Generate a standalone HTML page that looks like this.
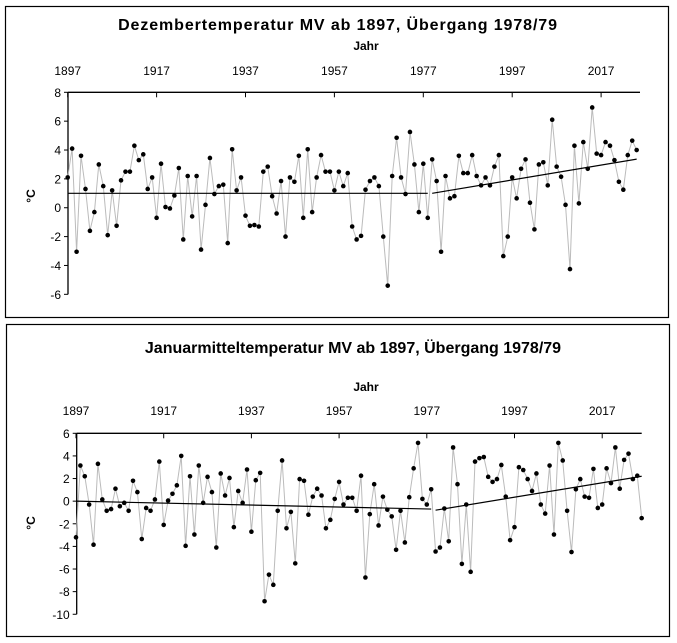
<!DOCTYPE html>
<html><head><meta charset="utf-8"><style>
html,body{margin:0;padding:0;background:#fff;width:677px;height:643px;overflow:hidden}
svg{display:block;font-family:"Liberation Sans",Arial,sans-serif}
</style></head><body>
<svg id="s" width="677" height="643" viewBox="0 0 677 643">
<rect x="5.5" y="6.5" width="663" height="311" fill="none" stroke="#000" stroke-width="1.2"/>
<rect x="6.5" y="324.5" width="663" height="312" fill="none" stroke="#000" stroke-width="1.2"/>
<text x="338" y="30" text-anchor="middle" font-size="16" font-weight="bold" letter-spacing="0.9">Dezembertemperatur MV ab 1897, Übergang 1978/79</text>
<text x="366" y="50" text-anchor="middle" font-size="12" font-weight="bold">Jahr</text>
<text x="353" y="353" text-anchor="middle" font-size="16" font-weight="bold">Januarmitteltemperatur MV ab 1897, Übergang 1978/79</text>
<text x="366" y="391" text-anchor="middle" font-size="12" font-weight="bold">Jahr</text>
<text transform="translate(35,196) rotate(-90)" text-anchor="middle" font-size="12" font-weight="bold">°C</text>
<text transform="translate(35,523) rotate(-90)" text-anchor="middle" font-size="12" font-weight="bold">°C</text>
</svg>
<script>
const xTickYears=[1897,1917,1937,1957,1977,1997,2017];
const decStartYear=1897;
const decValues=[2.1,4.1,-3.05,3.6,1.3,-1.6,-0.3,3.0,1.5,-1.9,1.2,-1.25,1.9,2.5,2.5,4.3,3.3,3.7,1.3,2.1,-0.7,3.05,0.05,-0.05,0.85,2.75,-2.2,2.2,-0.6,2.2,-2.9,0.2,3.45,0.95,1.5,1.6,-2.45,4.05,1.2,2.1,-0.55,-1.25,-1.2,-1.3,2.5,2.85,0.8,-0.4,1.85,-2.0,2.1,1.8,3.6,-0.7,4.05,-0.3,2.1,3.65,2.5,2.5,1.2,2.5,1.5,2.4,-1.3,-2.2,-1.95,1.25,1.85,2.1,1.5,-2.0,-5.4,2.2,4.85,2.1,0.95,5.25,3.0,-0.3,3.05,-0.7,3.35,1.85,-3.05,2.2,0.65,0.8,3.6,2.4,2.4,3.65,2.2,1.55,2.1,1.55,2.85,3.65,-3.35,-2.0,2.1,0.65,2.7,3.35,0.35,-1.5,3.0,3.15,1.55,6.1,2.85,2.15,0.2,-4.25,4.3,0.3,4.55,2.7,6.95,3.75,3.65,4.55,4.3,3.3,1.8,1.25,3.65,4.65,4.0];
const decTrendYears=[[1897,1978],[1979,2025]];
const decTrendValues=[[1.0,1.0],[1.0,3.37]];
const decYTicks=[8,6,4,2,0,-2,-4,-6];
const janStartYear=1897;
const janValues=[-3.2,3.15,2.2,-0.3,-3.85,3.3,0.15,-0.85,-0.7,1.1,-0.45,-0.15,-0.85,1.8,0.8,-3.35,-0.6,-0.85,0.15,3.5,-2.1,0.05,0.65,1.4,4.0,-3.95,2.2,-2.95,3.15,-0.15,2.15,0.8,-4.1,2.45,0.5,2.05,-2.3,0.9,-0.15,2.8,-2.7,1.85,2.5,-8.85,-6.5,-7.4,-0.85,3.6,-2.4,-0.95,-5.5,1.95,1.8,-1.2,0.4,1.1,0.5,-2.4,-1.65,0.2,1.7,-0.3,0.3,0.3,-0.85,2.25,-6.75,-1.15,1.5,-2.15,0.4,-0.75,-1.35,-4.3,-0.85,-3.65,0.35,2.9,5.15,0.2,-0.3,1.05,-4.45,-4.1,-0.65,-3.55,4.75,1.5,-5.55,-0.3,-6.25,3.5,3.8,3.9,2.15,1.7,1.95,3.2,0.4,-3.45,-2.3,3.0,2.75,1.95,0.9,2.45,-0.3,-1.1,3.15,-2.95,5.15,3.6,-0.85,-4.5,1.05,1.95,0.4,0.3,2.85,-0.6,-0.3,2.9,1.6,4.75,1.1,3.65,4.2,1.95,2.25,-1.5];
const janTrendYears=[[1897,1978],[1979,2026]];
const janTrendValues=[[0.0,-0.7],[-0.8,2.2]];
const janYTicks=[6,4,2,0,-2,-4,-6,-8,-10];

const NS="http://www.w3.org/2000/svg";
const svg=document.getElementById('s');
function mk(tag,attrs,parent){const e=document.createElementNS(NS,tag);for(const k in attrs)e.setAttribute(k,attrs[k]);(parent||svg).appendChild(e);return e;}

function drawChart(p){
  const g=mk('g',{});
  
  
  const x=y=>p.x0+(y-p.startYear)*p.dx;
  const yv=v=>p.yTop+(p.vMax-v)*p.dy;
  const ax=mk('line',{x1:p.axX,y1:yv(p.vMax),x2:p.axEnd,y2:yv(p.vMax),stroke:'#000','stroke-width':1.3},g);
  
  
  xTickYears.forEach(yr=>{
    const t=mk('line',{x1:x(yr),y1:yv(p.vMax),x2:x(yr),y2:yv(p.vMax)+5,stroke:'#000'},g);
    
    
    const l=mk('text',{x:x(yr),y:p.labelY,'text-anchor':'middle','font-size':12},g);
    l.textContent=yr;
    
    
  });
  const ya=mk('line',{x1:p.axX,y1:yv(p.vMax),x2:p.axX,y2:yv(p.vMin),stroke:'#000','stroke-width':1.3},g);
  
  
  p.yTicks.forEach(v=>{
    const t=mk('line',{x1:p.axX-4,y1:yv(v),x2:p.axX,y2:yv(v),stroke:'#000'},g);
    
    
    const l=mk('text',{x:p.axX-7,y:yv(v)+4.5,'text-anchor':'end','font-size':12},g);
    l.textContent=v;
    
    
  });
  const pts=p.values.map((v,i)=>x(p.startYear+i).toFixed(1)+','+yv(v).toFixed(1)).join(' ');
  const pl=mk('polyline',{points:pts,fill:'none',stroke:'#bbb','stroke-width':1},g);
  
  
  p.trendYears.forEach((ty,i)=>{
    const tl=mk('line',{x1:x(ty[0]),y1:yv(p.trendValues[i][0]),x2:x(ty[1]),y2:yv(p.trendValues[i][1]),stroke:'#000','stroke-width':1.2},g);
    
    
  });
  p.values.forEach((v,i)=>{
    const c=mk('circle',{cx:x(p.startYear+i),cy:yv(v),r:2.3,fill:'#000'},g);
    
    
  });
}
drawChart({name:'december-chart',startYear:decStartYear,values:decValues,trendYears:decTrendYears,trendValues:decTrendValues,yTicks:decYTicks,
  x0:67.7,dx:4.445,axX:68,axEnd:640,vMax:8,vMin:-6,yTop:92.3,dy:14.43,labelY:75});
drawChart({name:'january-chart',startYear:janStartYear,values:janValues,trendYears:janTrendYears,trendValues:janTrendValues,yTicks:janYTicks,
  x0:76,dx:4.385,axX:76.7,axEnd:641.7,vMax:6,vMin:-10,yTop:433.3,dy:11.31,labelY:415});
</script>
</body></html>
